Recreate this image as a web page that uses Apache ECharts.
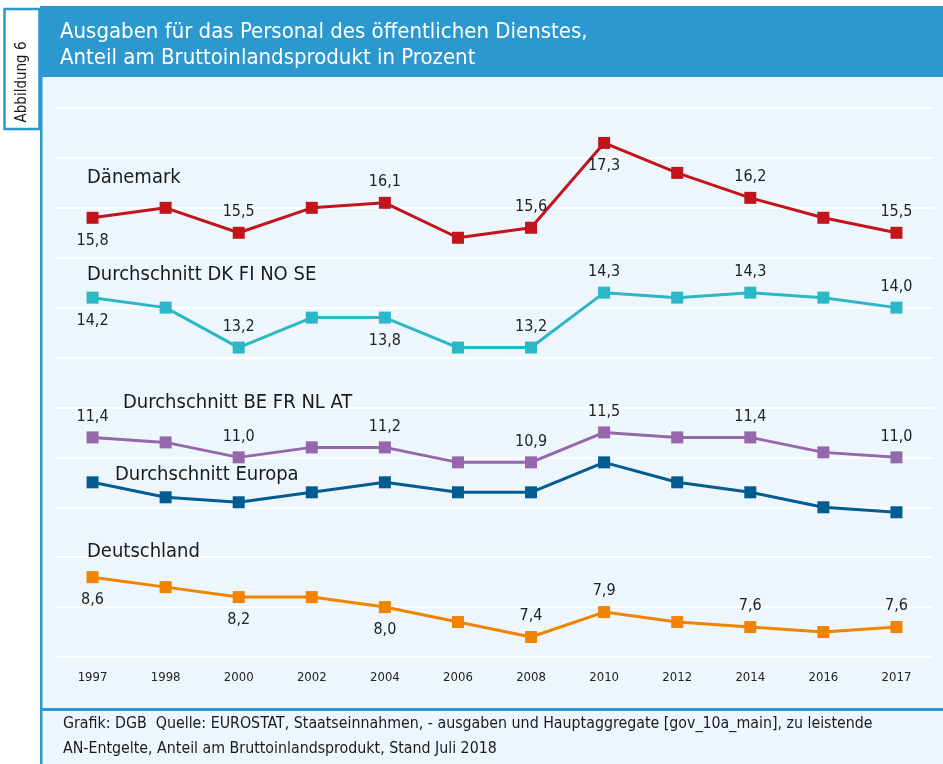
<!DOCTYPE html>
<html>
<head>
<meta charset="utf-8">
<script src="https://cdn.jsdelivr.net/npm/echarts@6/dist/echarts.min.js"></script>
<style>
  html, body { margin: 0; padding: 0; background: #fff; }
  #chartMain { width: 943px; height: 764px; }
</style>
</head>
<body>
<div id="chartMain"></div>
<script>
  // Jahre (x-Achse)
  var years = ['1997', '1998', '2000', '2002', '2004', '2006', '2008', '2010', '2012', '2014', '2016', '2017'];

  // Werte in Prozent des BIP
  var daenemark   = [15.8, 16.0, 15.5, 16.0, 16.1, 15.4, 15.6, 17.3, 16.7, 16.2, 15.8, 15.5];
  var nordisch    = [14.2, 14.0, 13.2, 13.8, 13.8, 13.2, 13.2, 14.3, 14.2, 14.3, 14.2, 14.0];
  var benelux     = [11.4, 11.3, 11.0, 11.2, 11.2, 10.9, 10.9, 11.5, 11.4, 11.4, 11.1, 11.0];
  var europa      = [10.5, 10.2, 10.1, 10.3, 10.5, 10.3, 10.3, 10.9, 10.5, 10.3, 10.0, 9.9];
  var deutschland = [8.6, 8.4, 8.2, 8.2, 8.0, 7.7, 7.4, 7.9, 7.7, 7.6, 7.5, 7.6];

  // wo ein Wert beschriftet wird: 't' oben, 'b' unten, '' keine
  var posDaenemark   = ['b', '', 't', '', 't', '', 't', 'b', '', 't', '', 't'];
  var posNordisch    = ['b', '', 't', '', 'b', '', 't', 't', '', 't', '', 't'];
  var posBenelux     = ['t', '', 't', '', 't', '', 't', 't', '', 't', '', 't'];
  var posEuropa      = ['', '', '', '', '', '', '', '', '', '', '', ''];
  var posDeutschland = ['b', '', 'b', '', 'b', '', 't', 't', '', 't', '', 't'];

  var blau = '#2b98d0';
  var font = "'Liberation Sans Narrow', 'DejaVu Sans Condensed', sans-serif";

  function buildData(values, pos) {
    return values.map(function (v, i) {
      var p = pos[i];
      if (!p) return { value: v };
      return {
        value: v,
        label: {
          show: true,
          position: p === 't' ? 'top' : 'bottom',
          distance: p === 't' ? 7 : 9
        }
      };
    });
  }

  function makeSeries(name, values, pos, color) {
    return {
      name: name,
      type: 'line',
      data: buildData(values, pos),
      symbol: 'rect',
      symbolSize: 12,
      lineStyle: { color: color, width: 3 },
      itemStyle: { color: color },
      label: {
        show: false,
        color: '#222',
        fontSize: 16,
        fontFamily: font,
        formatter: function (p) { return p.value.toFixed(1).replace('.', ','); }
      },
      emphasis: { disabled: true },
      animation: false
    };
  }

  function txt(x, y, s, size, color) {
    return {
      type: 'text',
      x: x, y: y, z: 50,
      style: {
        text: s, fill: color || '#1a1a1a',
        fontSize: size, fontFamily: font,
        textVerticalAlign: 'middle'
      }
    };
  }

  var myChart = echarts.init(document.getElementById('chartMain'));
  var option = {
    backgroundColor: '#eef6fd',
    grid: { left: 56, right: 10, top: 108, bottom: 107 },
    xAxis: {
      type: 'category',
      data: years,
      boundaryGap: true,
      axisLine: { show: false },
      axisTick: { show: false },
      axisLabel: { color: '#222', fontSize: 13, fontFamily: font, margin: 14 }
    },
    yAxis: {
      type: 'value',
      min: 7, max: 18, interval: 1,
      axisLabel: { show: false },
      axisLine: { show: false },
      axisTick: { show: false },
      splitLine: { lineStyle: { color: '#ffffff', width: 2 } }
    },
    graphic: [
      { type: 'rect', shape: { x: 0, y: 0, width: 943, height: 6 }, style: { fill: '#fff' } },
      { type: 'rect', shape: { x: 0, y: 0, width: 40, height: 764 }, style: { fill: '#fff' } },
      { type: 'rect', shape: { x: 40, y: 6, width: 903, height: 71 }, style: { fill: blau } },
      { type: 'rect', shape: { x: 40, y: 77, width: 2.5, height: 687 }, style: { fill: blau } },
      { type: 'rect', shape: { x: 40, y: 708, width: 903, height: 3 }, style: { fill: blau } },
      { type: 'rect', shape: { x: 4.5, y: 9, width: 35, height: 120 }, style: { fill: '#fff', stroke: blau, lineWidth: 2.5 } },
      {
        type: 'text', x: 22, y: 82, rotation: Math.PI / 2, z: 50,
        style: { text: 'Abbildung 6', fill: '#1a1a1a', fontSize: 15, fontFamily: font, textAlign: 'center', textVerticalAlign: 'middle' }
      },
      txt(60, 32, 'Ausgaben für das Personal des öffentlichen Dienstes,', 22, '#ffffff'),
      txt(60, 58, 'Anteil am Bruttoinlandsprodukt in Prozent', 22, '#ffffff'),
      txt(87, 178, 'Dänemark', 20),
      txt(87, 275, 'Durchschnitt DK FI NO SE', 20),
      txt(123, 403, 'Durchschnitt BE FR NL AT', 20),
      txt(115, 475, 'Durchschnitt Europa', 20),
      txt(87, 552, 'Deutschland', 20),
      txt(63, 724, 'Grafik: DGB  Quelle: EUROSTAT, Staatseinnahmen, - ausgaben und Hauptaggregate [gov_10a_main], zu leistende', 15.8),
      txt(63, 749, 'AN-Entgelte, Anteil am Bruttoinlandsprodukt, Stand Juli 2018', 15.8)
    ],
    series: [
      makeSeries('Dänemark', daenemark, posDaenemark, '#c1151b'),
      makeSeries('Durchschnitt DK FI NO SE', nordisch, posNordisch, '#2bb7c5'),
      makeSeries('Durchschnitt BE FR NL AT', benelux, posBenelux, '#9468aa'),
      makeSeries('Durchschnitt Europa', europa, posEuropa, '#035c91'),
      makeSeries('Deutschland', deutschland, posDeutschland, '#f08300')
    ]
  };
  myChart.setOption(option);

  window.addEventListener('resize', function () { myChart.resize(); });
</script>
</body>
</html>
